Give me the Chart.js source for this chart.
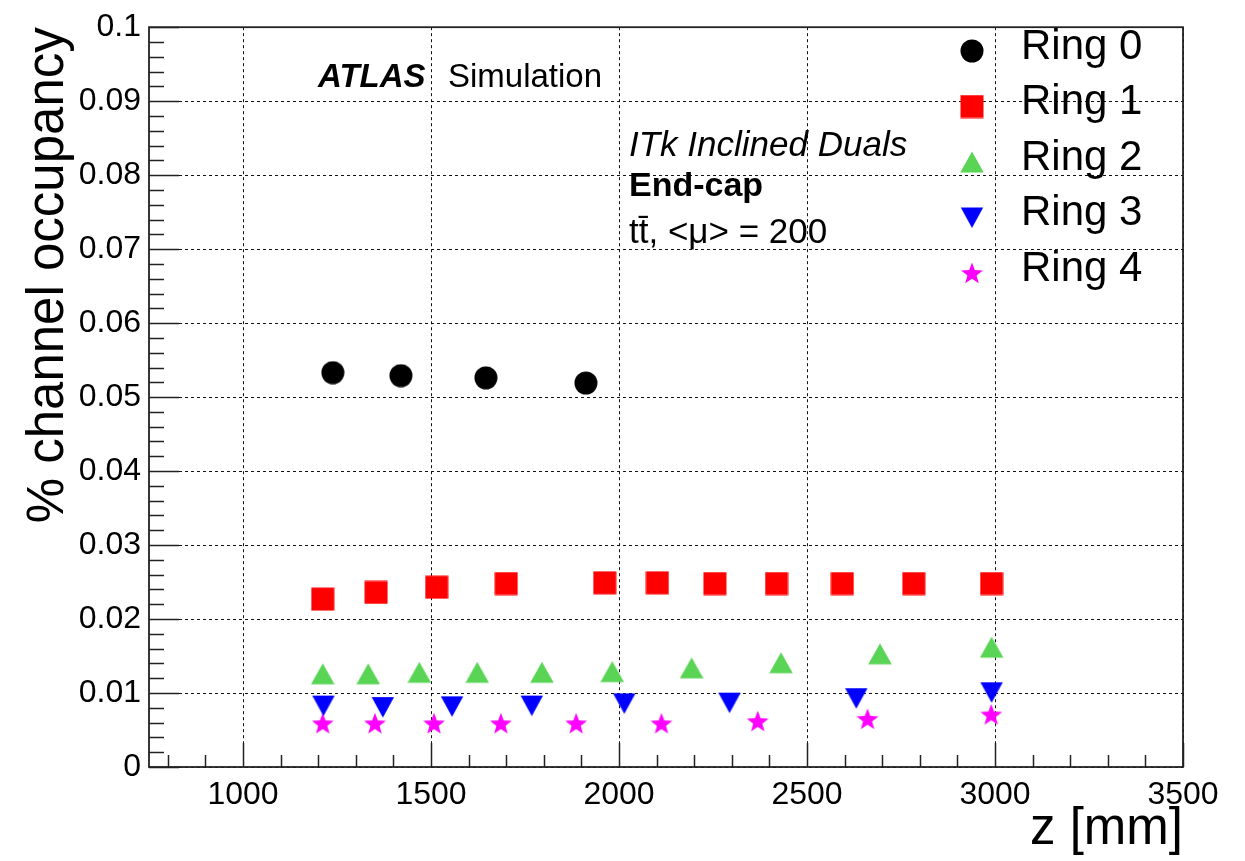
<!DOCTYPE html>
<html>
<head>
<meta charset="utf-8">
<script src="https://cdn.jsdelivr.net/npm/chart.js@4"></script>
<style>
  html, body { margin: 0; padding: 0; background: #fff; }
</style>
</head>
<body>
<canvas id="occupancyChart" width="1245" height="861"></canvas>
<script>
const ringNames = ['Ring 0', 'Ring 1', 'Ring 2', 'Ring 3', 'Ring 4']
const ringColors = ['#000000', '#ff0000', '#59d454', '#0000ff', '#ff00ff']

const ring0Z = [1239, 1420, 1646, 1912]
const ring0Occ = [0.0533, 0.0529, 0.0526, 0.0519]

const ring1Z = [1212, 1354, 1515, 1700, 1962, 2102, 2255, 2419, 2594, 2784, 2991]
const ring1Occ = [0.0227, 0.0236, 0.0243, 0.0248, 0.0249, 0.0249, 0.0248, 0.0248, 0.0248, 0.0248, 0.0248]

const ring2Z = [1212, 1333, 1469, 1623, 1795, 1982, 2193, 2431, 2694, 2991]
const ring2Occ = [0.0126, 0.0126, 0.0128, 0.0128, 0.0128, 0.0129, 0.0134, 0.0141, 0.0153, 0.0162]

const ring3Z = [1214, 1372, 1556, 1768, 2014, 2294, 2631, 2991]
const ring3Occ = [0.0083, 0.0081, 0.0082, 0.0083, 0.0086, 0.0087, 0.0093, 0.0101]

const ring4Z = [1212, 1351, 1508, 1686, 1886, 2113, 2369, 2661, 2990]
const ring4Occ = [0.0059, 0.0059, 0.0059, 0.0059, 0.0059, 0.0059, 0.0062, 0.0065, 0.0071]

const zTicks = [1000, 1500, 2000, 2500, 3000, 3500]
const zTickLabels = ['1000', '1500', '2000', '2500', '3000', '3500']
const occTicks = [0, 0.01, 0.02, 0.03, 0.04, 0.05, 0.06, 0.07, 0.08, 0.09, 0.1]
const occTickLabels = ['0', '0.01', '0.02', '0.03', '0.04', '0.05', '0.06', '0.07', '0.08', '0.09', '0.1']

const FONT = '"Liberation Sans", Arial, Helvetica, sans-serif'

// small filled markers, drawn once and reused as point styles
function makeMarker(kind, color) {
  const size = 24
  const c = document.createElement('canvas')
  c.width = size
  c.height = size
  const g = c.getContext('2d')
  const h = size / 2
  g.fillStyle = color
  g.beginPath()
  if (kind === 'circle') {
    g.arc(h, h, 11.5, 0, Math.PI * 2)
  } else if (kind === 'square') {
    g.rect(0.5, 0.5, 23, 23)
  } else if (kind === 'up') {
    g.moveTo(h, 1.5); g.lineTo(23.8, 22.5); g.lineTo(0.2, 22.5)
  } else if (kind === 'down') {
    g.moveTo(0.8, 2); g.lineTo(23.2, 2); g.lineTo(h, 22.5)
  } else if (kind === 'star') {
    for (let k = 0; k < 10; k++) {
      const r = k % 2 === 0 ? 11.5 : 4.8
      const a = -Math.PI / 2 + k * Math.PI / 5
      const px = h + r * Math.cos(a), py = h + 1 + r * Math.sin(a)
      if (k === 0) g.moveTo(px, py); else g.lineTo(px, py)
    }
    g.closePath()
  }
  g.fill()
  return c
}

const markerKinds = ['circle', 'square', 'up', 'down', 'star']
const ringZ = [ring0Z, ring1Z, ring2Z, ring3Z, ring4Z]
const ringOcc = [ring0Occ, ring1Occ, ring2Occ, ring3Occ, ring4Occ]

const datasets = ringNames.map((name, i) => ({
  label: name,
  data: ringZ[i].map((z, j) => ({x: z, y: ringOcc[i][j]})),
  pointStyle: makeMarker(markerKinds[i], ringColors[i]),
  pointRadius: 12,
  backgroundColor: ringColors[i],
  borderColor: ringColors[i],
  showLine: false
}))

// ticks on the inside of the frame, plus the frame itself
const frameTicks = {
  id: 'frameTicks',
  afterDraw(chart) {
    const {ctx, chartArea: a, scales: {x, y}} = chart
    ctx.save()
    ctx.strokeStyle = '#222'
    ctx.lineWidth = 1.5
    ctx.beginPath()
    for (let v = 800; v <= 3500; v += 100) {
      const px = Math.round(x.getPixelForValue(v)) + 0.5
      const len = v % 500 === 0 ? 24 : 12
      ctx.moveTo(px, a.bottom)
      ctx.lineTo(px, a.bottom - len)
    }
    for (let k = 0; k <= 50; k++) {
      const py = Math.round(y.getPixelForValue(k * 0.002)) + 0.5
      const len = k % 5 === 0 ? 30 : 15
      ctx.moveTo(a.left, py)
      ctx.lineTo(a.left + len, py)
    }
    ctx.stroke()
    ctx.lineWidth = 1.8
    ctx.strokeRect(a.left, a.top, a.right - a.left, a.bottom - a.top)
    ctx.restore()
  }
}

// ATLAS label and the run description
const labels = {
  id: 'labels',
  afterDraw(chart) {
    const ctx = chart.ctx
    ctx.save()
    ctx.fillStyle = '#000'
    ctx.textBaseline = 'alphabetic'
    ctx.textAlign = 'left'
    ctx.font = 'bold italic 33px ' + FONT
    ctx.fillText('ATLAS', 318, 87)
    ctx.font = '33px ' + FONT
    ctx.fillText('Simulation', 448, 87)
    ctx.font = 'italic 35px ' + FONT
    ctx.fillText('ITk Inclined Duals', 629, 156)
    ctx.font = 'bold 34px ' + FONT
    ctx.fillText('End-cap', 629, 196)
    ctx.font = '35px ' + FONT
    ctx.fillText('t\u0074\u0304, <\u03bc> = 200', 629, 243)
    ctx.restore()
  }
}

// legend in the top right corner of the frame, no box
const ringLegend = {
  id: 'ringLegend',
  afterDraw(chart) {
    const ctx = chart.ctx
    ctx.save()
    ctx.fillStyle = '#000'
    ctx.font = '42px ' + FONT
    ctx.textBaseline = 'middle'
    ctx.textAlign = 'left'
    chart.data.datasets.forEach((ds, i) => {
      const cy = 51 + i * 55.5
      const img = ds.pointStyle
      ctx.drawImage(img, 972 - img.width / 2, cy - img.height / 2)
      ctx.fillText(ds.label, 1021, cy - 4)
    })
    ctx.restore()
  }
}

const chart = new Chart(document.getElementById('occupancyChart'), {
  type: 'scatter',
  data: {datasets: datasets},
  options: {
    responsive: false,
    animation: false,
    events: [],
    layout: {padding: {top: 22, right: 62, left: 0, bottom: 0}},
    plugins: {legend: {display: false}, tooltip: {enabled: false}},
    scales: {
      x: {
        type: 'linear',
        min: 750,
        max: 3500,
        z: 1,
        afterFit: s => { s.height = 94 },
        afterBuildTicks: s => { s.ticks = zTicks.map(v => ({value: v})) },
        ticks: {
          padding: 9,
          color: '#000',
          maxRotation: 0,
          autoSkip: false,
          font: {family: FONT, size: 32},
          callback: (v, i) => zTickLabels[i]
        },
        grid: {color: '#111', lineWidth: 1, drawTicks: false},
        border: {display: false, dash: [3, 3]},
        title: {
          display: true,
          text: 'z [mm]',
          align: 'end',
          color: '#000',
          font: {family: FONT, size: 51},
          padding: {top: 0, bottom: 0}
        }
      },
      y: {
        type: 'linear',
        min: 0,
        max: 0.1,
        z: 1,
        afterFit: s => { s.width = 149 },
        afterBuildTicks: s => { s.ticks = occTicks.map(v => ({value: v})) },
        ticks: {
          padding: 8,
          color: '#000',
          autoSkip: false,
          font: {family: FONT, size: 32},
          callback: (v, i) => occTickLabels[i]
        },
        grid: {color: '#111', lineWidth: 1, drawTicks: false},
        border: {display: false, dash: [3, 3]},
        title: {
          display: true,
          text: '% channel occupancy',
          align: 'end',
          color: '#000',
          font: {family: FONT, size: 51},
          padding: {top: 18, bottom: 0}
        }
      }
    }
  },
  plugins: [frameTicks, labels, ringLegend]
})
</script>
</body>
</html>
